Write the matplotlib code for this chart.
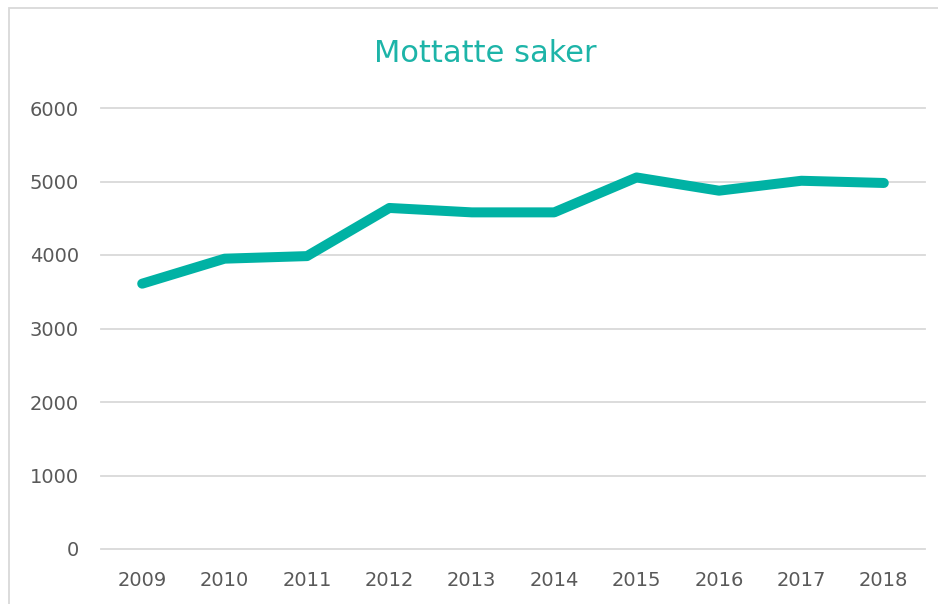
import matplotlib.pyplot as plt
from matplotlib.patches import Rectangle

years = ['2009', '2010', '2011', '2012', '2013', '2014', '2015', '2016', '2017', '2018']
saker = [3610, 3950, 3985, 4640, 4580, 4580, 5055, 4875, 5010, 4980]
yticks = [0, 1000, 2000, 3000, 4000, 5000, 6000]

teal = '#00B2A4'
grey_txt = '#595959'
grid_col = '#D9D9D9'

fig = plt.figure(figsize=(9.38, 6.04), dpi=100)
ax = fig.add_axes([101/938, 1-549/604, (925-101)/938, (549-108)/604])

x = list(range(len(years)))
ax.plot(x, saker, color=teal, lw=7.2, solid_capstyle='round', solid_joinstyle='round', zorder=3)

ax.set_xlim(-0.5, len(years)-0.5)
ax.set_ylim(0, 6000)
ax.set_yticks(yticks)
ax.set_yticklabels([str(v) for v in yticks])
ax.set_xticks(x)
ax.set_xticklabels(years)
ax.tick_params(axis='both', length=0, labelsize=14, colors=grey_txt)
ax.tick_params(axis='y', pad=16)
ax.tick_params(axis='x', pad=16)
ax.grid(axis='y', color=grid_col, lw=1.3)
for gl in ax.get_ygridlines():
    gl.set_clip_on(False)
ax.set_axisbelow(True)
for s in ax.spines.values():
    s.set_visible(False)

fig.text(485/938, 1-54/604, 'Mottatte saker', color='#1DB4A8', fontsize=22,
         ha='center', va='center')

# chart area border (cut off at the right and bottom)
fig.patches.append(Rectangle((9/938, -0.1), 1.2, 1-8/604+0.1, transform=fig.transFigure,
                             fill=False, edgecolor=grid_col, lw=1.3))

fig.savefig('out.png', dpi=100)
